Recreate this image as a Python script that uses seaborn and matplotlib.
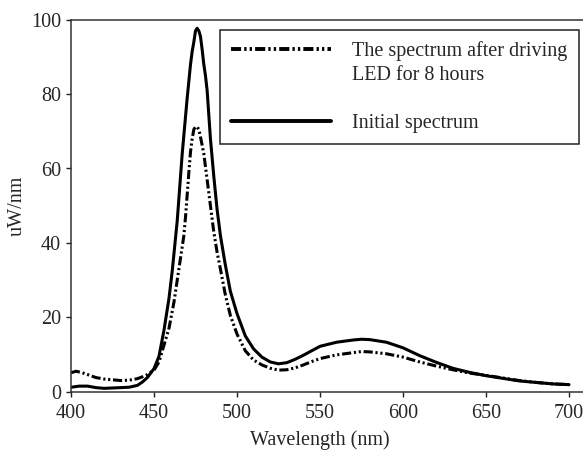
import matplotlib
matplotlib.use("Agg")
import matplotlib.pyplot as plt
import seaborn as sns
import pandas as pd
from matplotlib.lines import Line2D

# ---- data ----
wl_initial = [400, 405, 410, 415, 420, 425, 430, 435, 440, 443, 446, 450, 453, 456, 459,
              461, 464, 467, 470, 472, 473, 474, 475, 476, 477, 478, 479, 480, 481, 482,
              484, 486, 488, 490, 493, 496, 500, 505, 510, 515, 520, 525, 530, 535, 540,
              545, 550, 560, 570, 575, 580, 590, 600, 610, 620, 630, 640, 650, 660, 670,
              680, 690, 700]
initial = [1.2, 1.5, 1.5, 1.1, 0.9, 1.0, 1.1, 1.2, 1.7, 2.6, 3.8, 6.2, 9.5, 16.5, 25,
           32.5, 46, 64, 79, 88, 91.5, 94, 97, 97.7, 97, 95.5, 92, 88, 85, 81,
           68, 58, 49, 42, 34, 27, 21, 15, 11.5, 9.3, 8.0, 7.5, 7.8, 8.7, 9.8,
           11.0, 12.2, 13.3, 13.9, 14.1, 14.0, 13.3, 11.8, 9.7, 7.9, 6.3, 5.2, 4.3, 3.6, 2.9,
           2.5, 2.1, 1.9]

wl_after = [400, 403, 406, 410, 415, 420, 425, 430, 435, 440, 443, 446, 450, 453, 456,
            459, 462, 465, 468, 469, 471, 472, 473, 474, 475, 476, 477, 478, 480, 482,
            484, 486, 488, 490, 493, 496, 500, 505, 510, 515, 520, 525, 530, 535, 540,
            545, 550, 560, 570, 575, 580, 590, 600, 610, 620, 630, 640, 650, 660, 670,
            680, 690, 700]
after = [5.1, 5.5, 5.2, 4.6, 3.8, 3.4, 3.2, 3.0, 3.1, 3.5, 4.0, 4.6, 5.8, 8.0, 12.5,
         17, 24, 33, 42, 47, 59, 64.5, 68, 70.5, 71.2, 71.2, 70.5, 68.5, 64, 57,
         50, 43, 37.5, 33, 26, 20.5, 15.5, 11, 8.5, 7.2, 6.3, 5.8, 5.9, 6.4, 7.2,
         8.1, 8.9, 9.9, 10.5, 10.8, 10.7, 10.2, 9.3, 8.0, 6.9, 5.9, 5.0, 4.4, 3.7, 3.0,
         2.5, 2.1, 1.9]

label_after_1 = "The spectrum after driving"
label_after_2 = "LED for 8 hours"
label_initial = "Initial spectrum"
x_label = "Wavelength (nm)"
y_label = "uW/nm"
x_ticks = [400, 450, 500, 550, 600, 650, 700]
y_ticks = [0, 20, 40, 60, 80, 100]

df_init = pd.DataFrame({"wl": wl_initial, "val": initial})
df_after = pd.DataFrame({"wl": wl_after, "val": after})

sns.set_theme(style="white")
plt.rcParams["font.family"] = ["Liberation Serif", "DejaVu Serif"]
FS = 14.5

fig = plt.figure(figsize=(5.83, 4.57), dpi=100)
W, H = 583, 457
AH = 391.7 - 19.7
ax = fig.add_axes([71 / W, 1 - 391.7 / H, (W - 71) / W, AH / H])

dash_pat = (3.0, 0.9, 0.7, 0.9, 0.7, 0.9)
sns.lineplot(data=df_init, x="wl", y="val", ax=ax, color="black", lw=2.2,
             estimator=None, legend=False)
sns.lineplot(data=df_after, x="wl", y="val", ax=ax, color="black", lw=2.2,
             estimator=None, legend=False)
ax.lines[1].set_dashes(dash_pat)

ax.set_xlim(400, 400 + (W - 71) / 83 * 50)
ax.set_ylim(0, 100)
ax.set_xticks(x_ticks)
ax.set_yticks(y_ticks)
ax.tick_params(axis="both", labelsize=FS, direction="out", length=3.6, width=1,
               color="#222222", bottom=True, left=True)
ax.tick_params(axis="x", pad=5)
ax.tick_params(axis="y", pad=3.5)
for s in ["left", "bottom", "top"]:
    ax.spines[s].set_visible(True)
    ax.spines[s].set_color("#333333")
    ax.spines[s].set_linewidth(1.1)
ax.spines["right"].set_visible(False)

ax.set_xlabel(x_label, fontsize=FS)
ax.set_ylabel(y_label, fontsize=FS)
ax.xaxis.set_label_coords((320 - 71) / (W - 71), -(430 - 391.7) / AH)
ax.yaxis.set_label_coords(-(71 - 27) / (W - 71), 0.5)

h_after = Line2D([], [], color="black", lw=2.8, dashes=(2.6, 0.8, 0.6, 0.8, 0.6, 0.8))
h_blank = Line2D([], [], color="none", lw=0)
h_init = Line2D([], [], color="black", lw=2.8)
leg = ax.legend(handles=[h_after, h_blank, h_blank, h_init],
                labels=[label_after_1, label_after_2, "", label_initial],
                loc="upper left",
                bbox_to_anchor=(220 / W, 1 - 145 / H, (579 - 220) / W, 115 / H),
                bbox_transform=fig.transFigure, borderaxespad=0, mode="expand",
                fontsize=FS, frameon=True, fancybox=False, shadow=False,
                handlelength=4.95, handletextpad=1.05, borderpad=0.55,
                labelspacing=0.25)
leg.get_frame().set_edgecolor("#222222")
leg.get_frame().set_linewidth(1.1)
leg.get_frame().set_facecolor("white")
leg.get_frame().set_alpha(1)

fig.savefig("out.png", dpi=100)
